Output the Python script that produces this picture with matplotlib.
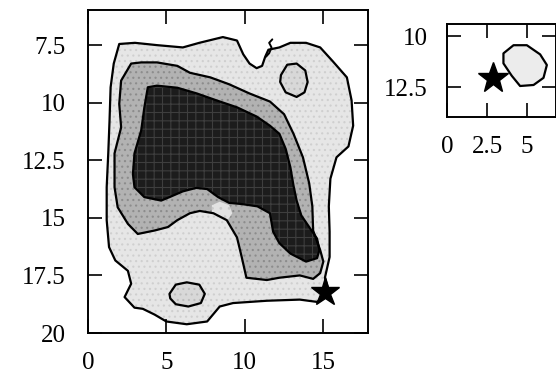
import matplotlib
matplotlib.use("Agg")
import matplotlib.pyplot as plt

plt.rcParams['font.family'] = ['Liberation Serif', 'DejaVu Serif']
plt.rcParams['hatch.linewidth'] = 0.8

# Contour outlines (x, y) of the density levels, main panel
outer_x = [2.0, 3.0, 4.4, 6.05, 7.1, 8.6, 9.5, 9.9, 10.3, 10.75, 11.1, 11.3, 11.5, 12.2, 12.9,
           13.9, 14.8, 15.6, 16.5, 16.8, 16.9, 16.6, 15.84, 15.45, 15.35, 15.4, 15.4, 15.1,
           15.4, 14.6, 13.5, 11.4, 9.25, 8.4, 7.6, 6.3, 5.0, 4.25, 3.5, 2.97, 2.34, 2.76,
           2.55, 1.75, 1.35, 1.2, 1.2, 1.3, 1.38, 1.45, 1.65]
outer_y = [7.45, 7.4, 7.5, 7.6, 7.4, 7.15, 7.3, 7.9, 8.3, 8.5, 8.4, 8.0, 7.7, 7.6, 7.4,
           7.4, 7.6, 8.2, 8.9, 9.9, 11.0, 11.9, 12.37, 13.3, 14.5, 15.6, 16.7, 17.6,
           18.3, 18.65, 18.55, 18.6, 18.7, 18.85, 19.5, 19.62, 19.5, 19.2, 18.95, 18.9, 18.44,
           17.86, 17.3, 16.85, 16.27, 15.1, 13.67, 12.2, 10.8, 9.33, 8.3]

# stray fragment of the outer level near the top edge
squiggle_x = [11.75, 11.55, 11.7, 11.55, 11.35]
squiggle_y = [7.25, 7.4, 7.6, 7.85, 8.0]

middle_x = [2.76, 3.4, 4.4, 5.7, 6.5, 7.8, 9.0, 10.3, 11.6, 12.5, 13.1, 13.7, 14.1, 14.3, 14.35,
            14.8, 15.0, 14.8, 14.35, 13.5, 12.2, 11.4, 10.1, 9.8, 9.5, 8.85, 8.0, 7.13, 6.5,
            5.7, 5.1, 4.25, 3.18, 2.55, 1.9, 1.7, 1.7, 2.12, 2.0, 2.12]
middle_y = [8.3, 8.25, 8.25, 8.4, 8.7, 8.9, 9.2, 9.6, 9.95, 10.5, 11.35, 12.37, 13.5, 14.5, 15.55,
            16.4, 16.9, 17.4, 17.65, 17.5, 17.6, 17.7, 17.6, 16.7, 15.85, 15.1, 14.8, 14.7, 14.8,
            15.1, 15.4, 15.55, 15.7, 15.26, 14.54, 13.67, 12.2, 11.07, 10.05, 9.04]

inner_x = [3.82, 4.4, 5.7, 6.95, 8.2, 9.5, 10.75, 11.6, 12.2, 12.6, 12.9, 13.1, 13.3, 13.6,
           14.1, 14.6, 14.75, 14.6, 13.9, 12.9, 12.2, 11.8, 11.6, 10.8, 9.8, 9.0, 8.3, 7.6,
           6.9, 6.05, 5.2, 4.67, 3.6, 2.97, 2.87, 2.97, 3.4, 3.6]
inner_y = [9.33, 9.26, 9.35, 9.6, 9.9, 10.2, 10.6, 11.0, 11.35, 12.0, 12.8, 13.6, 14.25, 14.9,
           15.4, 15.9, 16.4, 16.75, 16.9, 16.55, 16.1, 15.6, 14.8, 14.5, 14.4, 14.35, 14.1, 13.75,
           13.7, 13.85, 14.1, 14.25, 14.1, 13.67, 13.1, 12.2, 11.2, 10.2]

# pale gap where the inner level pinches off
gap_x = [7.9, 8.4, 9.0, 9.2, 8.9, 8.3, 7.9]
gap_y = [14.45, 14.3, 14.45, 14.8, 15.1, 15.0, 14.75]

# small closed contours
island_a_x = [12.3, 12.7, 13.3, 13.85, 14.0, 13.8, 13.3, 12.6, 12.25]
island_a_y = [8.8, 8.35, 8.3, 8.6, 9.1, 9.55, 9.75, 9.55, 9.1]
island_b_x = [5.2, 5.6, 6.3, 7.1, 7.45, 7.2, 6.4, 5.6, 5.25]
island_b_y = [18.3, 17.9, 17.8, 17.9, 18.3, 18.7, 18.85, 18.75, 18.5]

star_x, star_y = 15.1, 18.2

main_xticks = [0, 5, 10, 15]
main_yticks = [7.5, 10, 12.5, 15, 17.5, 20]

# inset panel
inset_blob_x = [3.52, 4.15, 4.98, 5.81, 6.23, 6.02, 5.4, 4.56, 4.04, 3.52]
inset_blob_y = [10.85, 10.45, 10.45, 10.9, 11.42, 12.05, 12.4, 12.45, 11.95, 11.34]
inset_star_x, inset_star_y = 2.9, 12.06
inset_xticks = [0, 2.5, 5]
inset_yticks = [10, 12.5]


def shade(ax, xs, ys, face, grain, hatch):
    ax.fill(xs, ys, facecolor=face, edgecolor=grain, hatch=hatch, lw=0)


fig = plt.figure(figsize=(5.56, 3.75), dpi=100)
ax = fig.add_axes([0.158, 0.112, 0.504, 0.861])

shade(ax, outer_x, outer_y, '#e6e6e6', '#cfcfcf', '...')
shade(ax, middle_x, middle_y, '#b2b2b2', '#8c8c8c', '...')
shade(ax, inner_x, inner_y, '#1c1c1c', '#3e3e3e', '++')
shade(ax, gap_x, gap_y, '#e2e2e2', '#cacaca', '..')
shade(ax, island_a_x, island_a_y, '#d8d8d8', '#bebebe', '...')
shade(ax, island_b_x, island_b_y, '#d8d8d8', '#bebebe', '...')
for xs, ys in [(outer_x, outer_y), (middle_x, middle_y), (inner_x, inner_y),
               (island_a_x, island_a_y), (island_b_x, island_b_y)]:
    ax.fill(xs, ys, facecolor='none', edgecolor='black', lw=1.6, joinstyle='round')
ax.plot(squiggle_x, squiggle_y, color='black', lw=1.4, solid_capstyle='round')
ax.plot(star_x, star_y, marker='*', ms=21, color='black', zorder=5)

ax.set_xlim(0, 17.85)
ax.set_ylim(20, 5.98)
ax.set_xticks(main_xticks)
ax.set_xticklabels([str(v) for v in main_xticks])
ax.set_yticks(main_yticks)
ax.set_yticklabels(['7.5', '10', '12.5', '15', '17.5', '20'])
ax.tick_params(direction='in', length=10, width=1.2, labelsize=18, pad=16,
               top=True, right=True)
ax.tick_params(axis='x', pad=14)
for s in ax.spines.values():
    s.set_linewidth(1.4)

ins = fig.add_axes([0.804, 0.688, 0.196, 0.248])
ins.fill(inset_blob_x, inset_blob_y, facecolor='#ececec', edgecolor='black', lw=1.6,
         joinstyle='round')
ins.plot(inset_star_x, inset_star_y, marker='*', ms=23, color='black', zorder=5)
ins.set_xlim(0, 6.8)
ins.set_ylim(13.97, 9.41)
ins.set_xticks(inset_xticks)
ins.set_xticklabels(['0', '2.5', '5'])
ins.set_yticks(inset_yticks)
ins.set_yticklabels(['10', '12.5'])
ins.tick_params(direction='in', length=10, width=1.2, labelsize=18, pad=14,
                top=True, right=True)
for s in ins.spines.values():
    s.set_linewidth(1.4)

fig.savefig('out.png', dpi=100)
